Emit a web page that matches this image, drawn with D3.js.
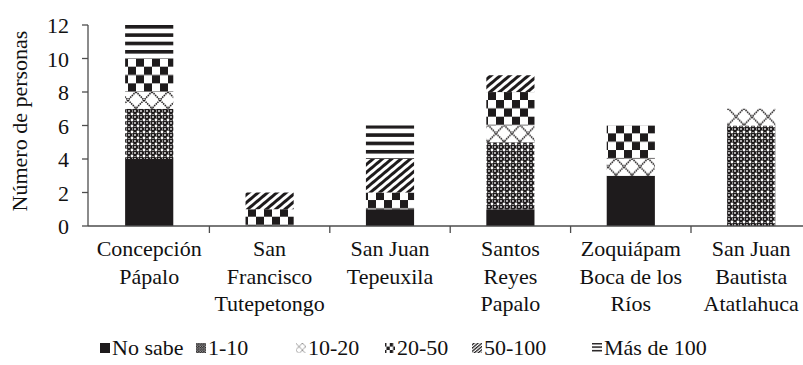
<!DOCTYPE html>
<html><head><meta charset="utf-8"><script src="https://cdn.jsdelivr.net/npm/d3@7"></script></head>
<body style="margin:0">
<svg id="chart" width="803" height="365"></svg>
<script>
// Communities (multi-line category labels)
const categories = [
  ["Concepción", "Pápalo"],
  ["San", "Francisco", "Tutepetongo"],
  ["San Juan", "Tepeuxila"],
  ["Santos", "Reyes", "Papalo"],
  ["Zoquiápam", "Boca de los", "Ríos"],
  ["San Juan", "Bautista", "Atatlahuca"]
];

// Number of people per size class
const seriesNames = ["No sabe", "1-10", "10-20", "20-50", "50-100", "Más de 100"];
const noSabe   = [4, 0, 1, 1, 3, 0];
const de1a10   = [3, 0, 0, 4, 0, 6];
const de10a20  = [1, 0, 0, 1, 1, 1];
const de20a50  = [2, 1, 1, 2, 2, 0];
const de50a100 = [0, 1, 2, 1, 0, 0];
const masDe100 = [2, 0, 2, 0, 0, 0];

const yTicks = [0, 2, 4, 6, 8, 10, 12];
const yTitle = "Número de personas";

const seriesValues = [noSabe, de1a10, de10a20, de20a50, de50a100, masDe100];
const keys = categories.map(c => c.join(" "));
const rows = keys.map((k, i) => {
  const r = { cat: k };
  seriesNames.forEach((s, j) => { r[s] = seriesValues[j][i]; });
  return r;
});

const FS = 22;
const svg = d3.select("#chart");
const defs = svg.append("defs");
const ink = "#1e1b1c";

// Fill patterns, one per size class; `scale` shrinks them for the legend keys
function makePatterns(suffix, scale) {
  function pat(id, w, h, rot) {
    let tf = scale !== 1 ? `scale(${scale})` : "";
    if (rot) tf += ` rotate(${rot})`;
    const p = defs.append("pattern").attr("id", id + suffix)
      .attr("patternUnits", "userSpaceOnUse")
      .attr("width", w).attr("height", h);
    if (tf.trim()) p.attr("patternTransform", tf.trim());
    p.append("rect").attr("width", w).attr("height", h).attr("fill", "#fff");
    return p;
  }
  // 1-10: dense dotted grid
  {
    const p = pat("p1", 6, 6);
    p.append("rect").attr("width", 6).attr("height", 6).attr("fill", ink);
    [[0, 0], [6, 0], [0, 6], [6, 6]].forEach(([cx, cy]) =>
      p.append("circle").attr("cx", cx).attr("cy", cy).attr("r", 1.4).attr("fill", "#fff"));
    p.append("rect").attr("x", 2.2).attr("y", 2.2).attr("width", 1.6).attr("height", 1.6).attr("fill", "#fff");
    p.append("rect").attr("x", 2.5).attr("y", 0).attr("width", 1).attr("height", 1).attr("fill", "#fff");
    p.append("rect").attr("x", 0).attr("y", 2.5).attr("width", 1).attr("height", 1).attr("fill", "#fff");
  }
  // 10-20: diagonal lattice
  {
    const p = pat("p2", 16, 16.67);
    p.append("path").attr("d", "M0,0L16,16.67M16,0L0,16.67")
      .attr("stroke", ink).attr("stroke-width", 1.6).attr("stroke-dasharray", "1.5 0.8").attr("fill", "none");
  }
  // 20-50: large checkerboard
  {
    const p = pat("p3", 16, 16.67);
    p.append("rect").attr("x", 0).attr("y", 0).attr("width", 8).attr("height", 8.33).attr("fill", ink);
    p.append("rect").attr("x", 8).attr("y", 8.33).attr("width", 8).attr("height", 8.34).attr("fill", ink);
  }
  // 50-100: wide diagonal stripes
  {
    const p = pat("p4", 6, 10, 50);
    p.append("rect").attr("width", 3).attr("height", 10).attr("fill", ink);
  }
  // Más de 100: horizontal stripes
  {
    const p = pat("p5", 10, 8.33);
    p.append("rect").attr("width", 10).attr("height", 3.6).attr("fill", ink);
  }
  return [ink, "p1", "p2", "p3", "p4", "p5"].map((id, i) => i === 0 ? ink : `url(#${id}${suffix})`);
}
const fills = makePatterns("", 1);
const keyFills = makePatterns("k", 0.42);

// Scales
const x = d3.scaleBand().domain(keys).range([89, 89 + 6 * 120.4])
  .paddingInner(0.6).paddingOuter(0.3);
const y = d3.scaleLinear().domain([0, 12]).range([226, 25]);

// Stacked bars
const stacked = d3.stack().keys(seriesNames)(rows);
svg.append("g").selectAll("g").data(stacked).join("g")
  .attr("fill", (d, i) => fills[i])
  .selectAll("rect").data(d => d.filter(s => s[1] - s[0] > 0)).join("rect")
  .attr("x", d => x(d.data.cat))
  .attr("width", x.bandwidth())
  .attr("y", d => y(d[1]))
  .attr("height", d => y(d[0]) - y(d[1]));

// Axis lines and ticks
const axisColor = "#4d4d4d";
const axes = svg.append("g").attr("stroke", axisColor).attr("stroke-width", 1.3);
axes.append("line").attr("x1", 88).attr("x2", 88).attr("y1", y(12)).attr("y2", y(0));
axes.append("line").attr("x1", 88).attr("x2", 803).attr("y1", y(0)).attr("y2", y(0));
axes.selectAll("line.yt").data(yTicks).join("line").attr("class", "yt")
  .attr("x1", 82).attr("x2", 88).attr("y1", d => y(d)).attr("y2", d => y(d));
const step = x.step();
const x0 = x.range()[0];
axes.selectAll("line.xt").data(d3.range(1, categories.length + 1)).join("line").attr("class", "xt")
  .attr("x1", k => x0 + k * step).attr("x2", k => x0 + k * step)
  .attr("y1", y(0)).attr("y2", y(0) + 7);

// All text: tick labels, category labels, axis title and legend entries
const legendX = [100, 196, 296, 385, 472, 592];
const texts = [];
yTicks.forEach(v => texts.push({ t: String(v), x: 69, y: y(v) + 8, a: "end" }));
categories.forEach((lines, i) => {
  const cx = x(keys[i]) + x.bandwidth() / 2;
  lines.forEach((ln, j) => texts.push({ t: ln, x: cx, y: 256 + j * 27.5, a: "middle" }));
});
texts.push({ t: yTitle, x: 0, y: 0, a: "middle", tr: "translate(27,121) rotate(-90)" });
seriesNames.forEach((s, i) => texts.push({ t: s, x: legendX[i] + 12, y: 355, a: "start" }));

svg.selectAll("rect.key").data(seriesNames).join("rect").attr("class", "key")
  .attr("x", (d, i) => legendX[i]).attr("y", 343).attr("width", 10).attr("height", 10)
  .attr("fill", (d, i) => keyFills[i]);

svg.selectAll("text.lbl").data(texts).join("text").attr("class", "lbl")
  .attr("x", d => d.x).attr("y", d => d.y)
  .attr("text-anchor", d => d.a)
  .attr("transform", d => d.tr || null)
  .attr("fill", "#111")
  .attr("font-family", '"Liberation Serif"')
  .style("font-family", '"Liberation Serif"', "important")
  .style("font-size", FS + "px", "important")
  .text(d => d.t);
</script>
</body></html>
